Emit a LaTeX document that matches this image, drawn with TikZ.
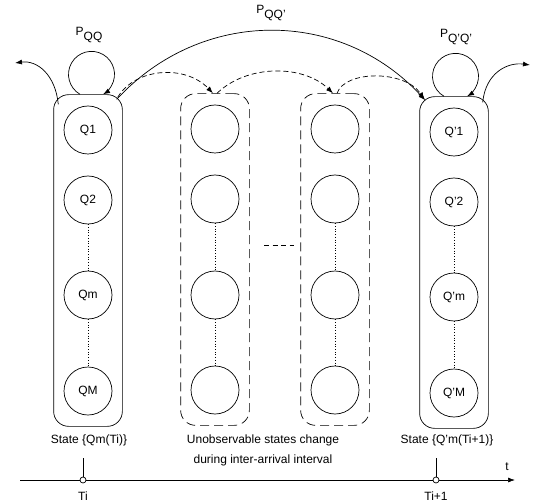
\documentclass[tikz,border=0pt]{standalone}
\usepackage{fontspec}
\setmainfont{Liberation Sans}
\usetikzlibrary{arrows.meta,fit}
\newcommand{\Plabel}[1]{P\raisebox{-5pt}{#1}}

\begin{document}
\begin{tikzpicture}[x=1pt,y=-1pt,font=\fontsize{12}{20}\selectfont,
  state/.style={draw,circle,minimum size=48pt,inner sep=0pt,line width=0.7pt},
  colbox/.style={draw,rounded corners=15pt,inner xsep=10pt,inner ysep=11pt,line width=0.7pt},
  hidbox/.style={colbox,dash pattern=on 9pt off 5pt},
  link/.style={dotted,line width=0.7pt},
  arr/.style={-{Latex[length=7pt,width=5pt]},line width=0.7pt},
  hidarr/.style={arr,dash pattern=on 5pt off 3pt},
  tmark/.style={draw,circle,fill=white,minimum size=6pt,inner sep=0pt,line width=0.7pt}]
  \useasboundingbox (0,0) rectangle (545,502);

  % observed states at Ti
  \node[state] (q1) at (88,130) {Q1};
  \node[state] (q2) at (88,200) {Q2};
  \node[state] (qm) at (88,295) {Qm};
  \node[state] (qM) at (88,391) {QM};
  \node[colbox,fit=(q1)(qM)] (L) {};
  \draw[link] (q2) -- (qm);
  \draw[link] (qm) -- (qM);

  % unobservable states
  \foreach \c/\x in {a/215,b/335} {
    \node[state] (\c1) at (\x,129) {};
    \node[state] (\c2) at (\x,199) {};
    \node[state] (\c3) at (\x,295) {};
    \node[state] (\c4) at (\x,390) {};
    \draw[link] (\c2) -- (\c3);
    \draw[link] (\c3) -- (\c4);
  }
  \node[hidbox,fit=(a1)(a4)] (A) {};
  \node[hidbox,fit=(b1)(b4)] (B) {};
  \draw[dash pattern=on 5pt off 3.5pt,line width=0.7pt] (264,245) -- (294,245);

  % observed states at Ti+1
  \node[state] (r1) at (454,132) {Q'1};
  \node[state] (r2) at (454,202) {Q'2};
  \node[state] (rm) at (454,297) {Q'm};
  \node[state] (rM) at (454,393) {Q'M};
  \node[colbox,fit=(r1)(rM)] (R) {};
  \draw[link] (r2) -- (rm);
  \draw[link] (rm) -- (rM);

  % self loops and exits
  \draw[arr] ([xshift=-8pt]L.north) arc[start angle=120,end angle=420,radius=23];
  \node (pqq) at (89,35) {\Plabel{QQ}};
  \coordinate (exitL) at (15,63);
  \draw[arr] ([shift={(5,10)}]L.north west) .. controls +(-3,-30) and +(22,-3) .. (exitL);
  \draw[arr] ([xshift=-10pt]R.north) arc[start angle=120,end angle=420,radius=23];
  \node (prr) at (456,37) {\Plabel{Q'Q'}};
  \coordinate (exitR) at (530,65);
  \draw[arr] ([shift={(-6,6)}]R.north east) .. controls +(3,-30) and +(-22,-3) .. (exitR);

  % transition Q -> Q'
  \draw[arr] ([shift={(-6,5)}]L.north east) .. controls +(85,-92) and +(-85,-92) .. ([shift={(6,4)}]R.north west);
  \node (pqr) at (271,13) {\Plabel{QQ'}};

  % hidden transitions
  \draw[hidarr] ([shift={(-5,3)}]L.north east) .. controls (135,68) and (185,64) .. ([xshift=-2pt]A.north);
  \draw[hidarr] ([xshift=2pt]A.north) .. controls +(30,-29) and +(-30,-29) .. ([xshift=-2pt]B.north);
  \draw[hidarr] ([xshift=2pt]B.north) .. controls (345,70) and (405,70) .. ([shift={(5,3)}]R.north west);

  % time axis
  \coordinate (axL) at (20,480);
  \coordinate (axR) at (515,480);
  \draw[arr] (axL) -- (axR);
  \node at (507,467) {t};
  \node[tmark] (ti) at (83,480) {};
  \node[tmark] (tj) at (436,480) {};
  \coordinate (tiTop) at (83,458);
  \coordinate (tjTop) at (436,458);
  \draw[line width=0.7pt] (ti) -- (tiTop);
  \draw[line width=0.7pt] (tj) -- (tjTop);
  \node at (83,496) {Ti};
  \node at (436,496) {Ti+1};
  \node (si) at (89,440) {State \{Qm(Ti)\}};
  \node (sj) at (447,440) {State \{Q'm(Ti+1)\}};
  \node[align=center] (hid) at (263,450) {Unobservable states change\\during inter-arrival interval};
\end{tikzpicture}
\end{document}
